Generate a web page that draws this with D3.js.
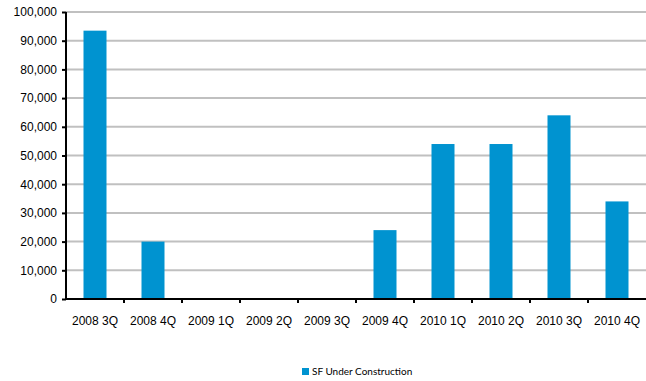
<!DOCTYPE html>
<html><head><meta charset="utf-8">
<script src="https://cdn.jsdelivr.net/npm/d3@7"></script>
<style>body{margin:0;background:#fff}svg{display:block;font-family:Lato,"Open Sans",sans-serif}</style>
</head><body><svg id="c" width="646" height="381"></svg>
<script>
const categories = ["2008 3Q","2008 4Q","2009 1Q","2009 2Q","2009 3Q","2009 4Q","2010 1Q","2010 2Q","2010 3Q","2010 4Q"];
const values = [93500,20000,0,0,0,24000,54000,54000,64000,34000];
const yTicks = [0,10000,20000,30000,40000,50000,60000,70000,80000,90000,100000];
const seriesName = "SF Under Construction";

const svg = d3.select("#c");
const L = 66, R = 646, T = 12, B = 299;
const x = d3.scaleBand().domain(categories).range([L, R]).paddingInner(0).paddingOuter(0);
const y = d3.scaleLinear().domain([0, 100000]).range([B, T]);
const fmt = d3.format(",");

// gridlines
svg.append("g").selectAll("line").data(yTicks.filter(d => d > 0)).join("line")
  .attr("x1", L).attr("x2", R).attr("y1", d => y(d)).attr("y2", d => y(d))
  .attr("stroke", "#c0c0c0").attr("stroke-width", 2);

// bars
const bw = 23;
svg.append("g").selectAll("rect").data(values).join("rect")
  .attr("x", (d, i) => x(categories[i]) + x.bandwidth() / 2 - bw / 2)
  .attr("width", bw)
  .attr("y", d => y(d)).attr("height", d => B - y(d))
  .attr("fill", "#0093d0");

// y axis
const ya = svg.append("g").attr("transform", `translate(${L},0)`)
  .call(d3.axisLeft(y).tickValues(yTicks).tickFormat(fmt).tickSize(4).tickPadding(5));
ya.select(".domain").attr("stroke", "#000").attr("stroke-width", 2).attr("d", `M0,${T}V${B}`);
ya.selectAll(".tick line").attr("stroke", "#000").attr("stroke-width", 2);
ya.selectAll(".tick text").attr("font-size", 12).attr("fill", "#000");

// x axis
const xa = svg.append("g").attr("transform", `translate(0,${B})`)
  .call(d3.axisBottom(x).tickSize(0).tickPadding(17));
xa.select(".domain").attr("stroke", "#000").attr("stroke-width", 2).attr("d", `M${L},0H${R}`);
xa.selectAll(".tick text").attr("font-size", 12).attr("fill", "#000");
svg.append("g").selectAll("line").data(categories.slice(1)).join("line")
  .attr("x1", d => x(d)).attr("x2", d => x(d)).attr("y1", B).attr("y2", B + 4)
  .attr("stroke", "#000").attr("stroke-width", 2);

// legend
const lg = svg.append("g").attr("transform", "translate(302,368)");
lg.append("rect").attr("width", 7).attr("height", 7).attr("fill", "#0093d0");
lg.append("text").attr("x", 10).attr("y", 7).attr("font-size", 10).attr("fill", "#000").text(seriesName);
</script></body></html>
